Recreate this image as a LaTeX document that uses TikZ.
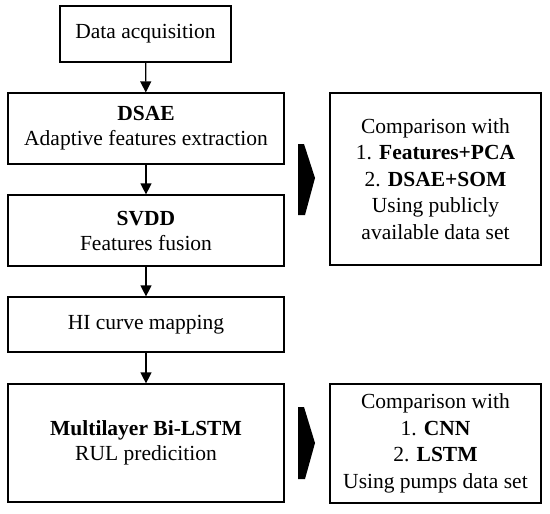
\documentclass[tikz,border=0pt]{standalone}
\usepackage{fontspec}
\setmainfont{Liberation Serif}
\usetikzlibrary{arrows.meta}
\begin{document}
\begin{tikzpicture}[x=1pt,y=-1pt,
  box/.style={draw, line width=1.2pt, inner sep=0pt, align=center, font=\fontsize{21.5}{25}\selectfont},
  rbox/.style={box, font=\fontsize{21.5}{26.5}\selectfont},
  flow/.style={-{Triangle[length=11pt,width=11pt]}, line width=1.3pt},
  chev/.style={fill=black, draw=none}]
\useasboundingbox (0,0) rectangle (550,514);
\node[box, minimum width=171pt, minimum height=56pt] (acq) at (145.5,34) {Data acquisition};
\node[box, minimum width=276pt, minimum height=71pt] (dsae) at (146,128.5) {\textbf{DSAE}\\Adaptive features extraction};
\node[box, minimum width=276pt, minimum height=71pt] (svdd) at (146,230.5) {\textbf{SVDD}\\Features fusion};
\node[box, minimum width=276pt, minimum height=55pt] (hi) at (146,324.5) {HI curve mapping};
\node[box, minimum width=276pt, minimum height=118pt] (bilstm) at (146,443) {\textbf{Multilayer Bi-LSTM}\\RUL predicition};
\node[rbox, minimum width=211pt, minimum height=172pt] (cmp1) at (435.5,179) {Comparison with\\1. \textbf{Features+PCA}\\2. \textbf{DSAE+SOM}\\Using publicly\\available data set};
\node[rbox, minimum width=211pt, minimum height=119pt] (cmp2) at (435.5,443.5) {Comparison with\\1. \textbf{CNN}\\2. \textbf{LSTM}\\Using pumps data set};
\draw[flow] (acq) -- (dsae);
\draw[flow] (dsae) -- (svdd);
\draw[flow] (svdd) -- (hi);
\draw[flow] (hi) -- (bilstm);
\fill[chev] (298,144) -- (304,144) -- (315,178) -- (305,215) -- (298,215) -- cycle;
\fill[chev] (298,407) -- (304,407) -- (315,443) -- (305,479) -- (298,479) -- cycle;
\end{tikzpicture}
\end{document}
